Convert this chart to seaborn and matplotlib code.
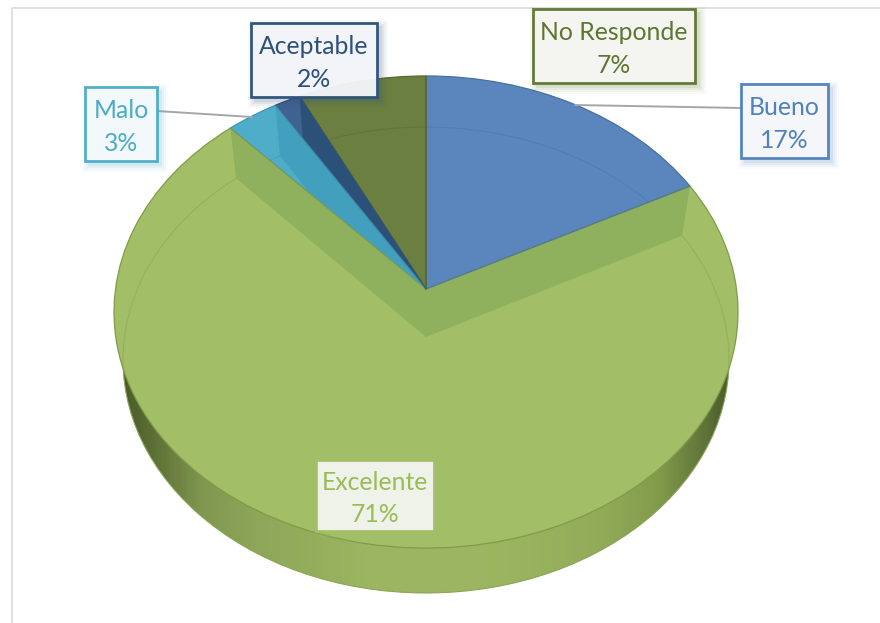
import numpy as np
import matplotlib
matplotlib.use('Agg')
import matplotlib.pyplot as plt
import matplotlib.transforms as mtransforms
from matplotlib.colors import LinearSegmentedColormap
from matplotlib.patches import Circle, Polygon, Rectangle
import seaborn as sns

sns.set_theme(style="white")
plt.rcParams['font.family'] = ['Lato', 'DejaVu Sans']

# data, clockwise from 12 o'clock
categories = ['Bueno', 'Excelente', 'Malo', 'Aceptable', 'No Responde']
shares = [17.4, 70.8, 3.0, 1.5, 7.3]
shown_pct = [17, 71, 3, 2, 7]

# styles
top_colors = ['#5a86bd', '#a2bf68', '#4fadca', '#3f6290', '#6b7f40']
edge_colors = ['#46709f', '#7f9c48', '#3f93ad', '#2c5079', '#55682e']
wall_colors = ['#5a86bd', '#8fb05c', '#429fbd', '#2c5179', '#6b7f40']
text_colors = ['#4f81bd', '#9bbb59', '#4bacc6', '#2c5079', '#5f7530']
box_edges = ['#4f81bd', '#a2bf68', '#4bacc6', '#2c5079', '#5f7530']
box_fills = ['#f6f8fb', '#f2f5ee', '#f5f9fb', '#f4f6f9', '#f6f6f3']
# left, top, right, bottom in pixels
boxes = [(741, 84, 828, 158), (316, 460, 434, 531), (85, 87, 157, 161),
         (251, 23, 377, 97), (533, 9, 695, 83)]
# perspective of the top and bottom faces: half width, scale, tilt, apex y
top_face = (310.5, 233.8, 0.0975, 289)
bottom_face = (301.5, 230.7, 0.0987, 337)
center_x = 426


def project(xy, face):
    a, c, k, apex = face
    xy = np.asarray(xy, dtype=float)
    w = 1 + k * xy[:, 1]
    return np.column_stack([center_x + a * xy[:, 0] / w, apex - c * xy[:, 1] / w])


class Perspective(mtransforms.Transform):
    input_dims = 2
    output_dims = 2
    is_separable = False
    has_inverse = False

    def __init__(self, face):
        super().__init__()
        self.face = face

    def transform_non_affine(self, values):
        return project(values, self.face)


fig = plt.figure(figsize=(8.8, 6.23), dpi=100, facecolor='white')
ax = fig.add_axes([0, 0, 1, 1])

# side wall, a horizontal shade clipped to the bottom disc
wall_cmap = LinearSegmentedColormap.from_list('wall', [
    (0.0, '#4a5a28'), (0.05, '#5c6f35'), (0.13, '#7f9650'), (0.22, '#8ea659'),
    (0.4, '#9bb560'), (0.6, '#9cb660'), (0.78, '#93ac5a'), (0.88, '#829c4c'),
    (0.95, '#63773a'), (1.0, '#4a5a28')])
shade = ax.imshow(np.linspace(0, 1, 300)[None, :], cmap=wall_cmap, aspect='auto',
                  extent=(120, 733, 600, 300), zorder=1)
bottom_disc = Circle((0, 0), 1, fc='none', ec='#8aa556', lw=0.8, zorder=1.1,
                     transform=Perspective(bottom_face) + ax.transData)
ax.add_patch(bottom_disc)
shade.set_clip_path(bottom_disc)

# top face
wedges, _ = ax.pie(shares, startangle=90, counterclock=False, colors=top_colors,
                   wedgeprops={'linewidth': 0.9})
for wedge, edge in zip(wedges, edge_colors):
    wedge.set_transform(Perspective(top_face) + ax.transData)
    wedge.set_edgecolor(edge)
    wedge.set_zorder(2)

# the far rim seen through the top face
for wedge, edge in zip(wedges, edge_colors):
    rim = Circle((0, 0), 1, fc='none', ec=edge, lw=0.8, alpha=0.4, zorder=2.1,
                 transform=Perspective(bottom_face) + ax.transData)
    ax.add_patch(rim)
    rim.set_clip_path(wedge)

# cut faces of the slices seen through the top face
for wedge, wall in zip(wedges, wall_colors):
    for theta in (wedge.theta1, wedge.theta2):
        rad = np.deg2rad(theta)
        rim_pt = [[np.cos(rad), np.sin(rad)]]
        mid_pt = [[0, 0]]
        pts = np.vstack([project(rim_pt, top_face), project(rim_pt, bottom_face),
                         project(mid_pt, bottom_face), project(mid_pt, top_face)])
        face = Polygon(pts, closed=True, fc=wall, ec='none', zorder=2.2)
        ax.add_patch(face)
        face.set_clip_path(wedge)

# slice borders again, over the cut faces
for wedge, edge in zip(wedges, edge_colors):
    rad = np.deg2rad(wedge.theta1)
    line = project([[0, 0], [np.cos(rad), np.sin(rad)]], top_face)
    ax.plot(line[:, 0], line[:, 1], color=edge, lw=0.9, alpha=0.8, zorder=2.3)

# frame of the picture
ax.plot([12, 12, 880], [623, 8, 8], color='#dcdcdc', lw=1.2, zorder=0.5)

# leader lines
ax.plot([741, 575], [108, 105], color='#a6a6a6', lw=1.4, zorder=3)
ax.plot([157, 252], [111, 117], color='#a6a6a6', lw=1.4, zorder=3)

# data labels
for name, pct, box, txt, edge, fill in zip(categories, shown_pct, boxes, text_colors,
                                           box_edges, box_fills):
    x0, y0, x1, y1 = box
    for grow, alpha in ((7, 0.03), (5, 0.05), (3, 0.07), (1, 0.10)):
        ax.add_patch(Rectangle((x0 + 4 - grow, y0 + 4 - grow), x1 - x0 + 2 * grow,
                               y1 - y0 + 2 * grow, fc=edge, ec='none', alpha=alpha, zorder=4))
    ax.add_patch(Rectangle((x0, y0), x1 - x0, y1 - y0, fc=fill, ec=edge,
                           lw=2, alpha=0.96, zorder=5))
    ax.text((x0 + x1) / 2, (y0 + y1) / 2 + 3, f'{name}\n{pct}%', color=txt, fontsize=17.8,
            ha='center', va='center', linespacing=1.5, zorder=6)

ax.set_xlim(0, 880)
ax.set_ylim(623, 0)
ax.set_aspect('auto')
ax.axis('off')
fig.savefig('out.png', dpi=100)
